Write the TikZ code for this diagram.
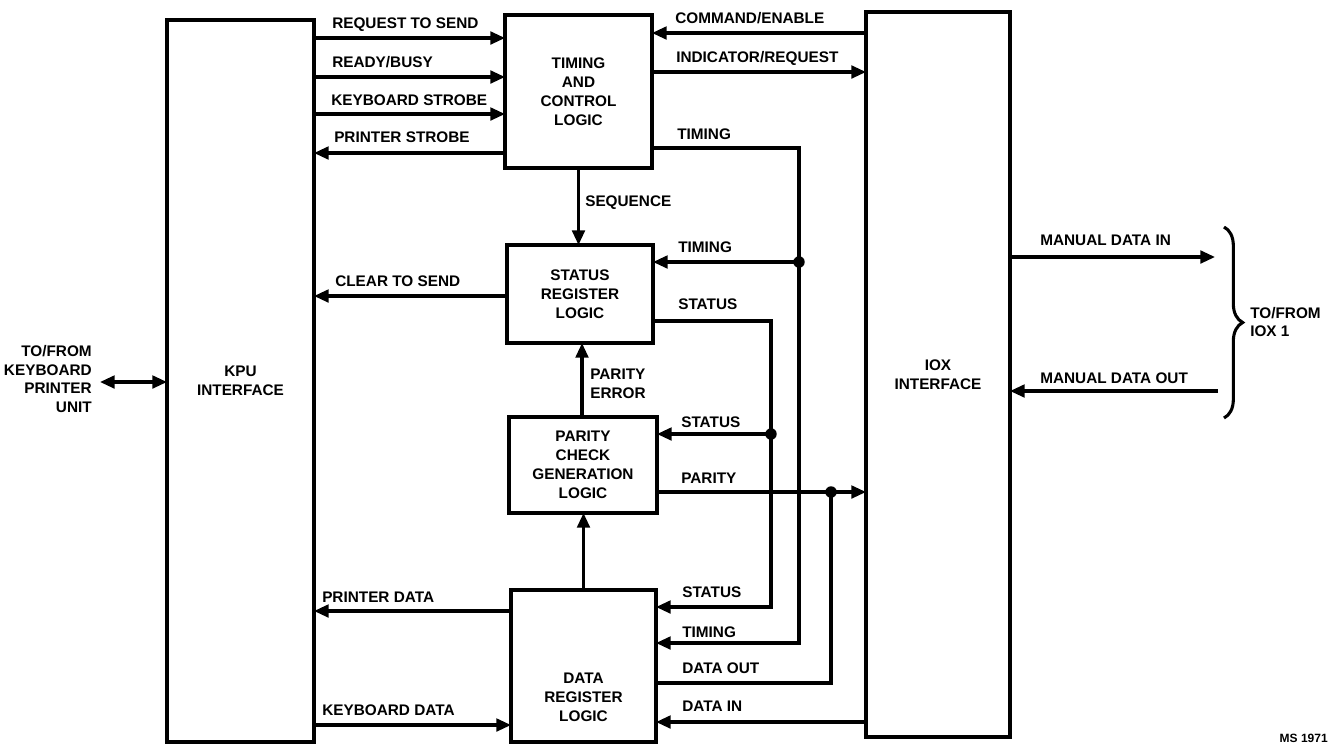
\documentclass[tikz,border=0pt]{standalone}
\usepackage{fontspec}
\setmainfont{Liberation Sans}
\usetikzlibrary{arrows.meta,decorations.pathreplacing}
\tikzset{
  blk/.style={draw, line width=2.4pt, rectangle, inner sep=0pt, outer sep=0pt,
    align=center, font=\bfseries\fontsize{11.5}{14.2}\selectfont},
  lab/.style={inner sep=0pt, anchor=west, align=left, text height=8.3pt, text depth=0pt,
    font=\bfseries\fontsize{11.5}{14}\selectfont},
  wire/.style={line width=2.3pt},
  arr/.style={wire, -{Triangle[length=11pt,width=9.5pt]}},
  arrtwo/.style={wire, {Triangle[length=11pt,width=9.5pt]}-{Triangle[length=11pt,width=9.5pt]}},
  jdot/.style={fill, radius=4.3pt}
}
\begin{document}
\begin{tikzpicture}[x=0.75pt, y=-0.75pt]
\useasboundingbox (0,0) rectangle (1330,744);
% blocks
\node[blk, minimum width=147*0.75pt, minimum height=722*0.75pt] (kpu) at (240.5,381) {KPU\\INTERFACE};
\node[blk, minimum width=147*0.75pt, minimum height=153*0.75pt] (tc) at (578.5,91.5) {TIMING\\AND\\CONTROL\\LOGIC};
\node[blk, minimum width=144*0.75pt, minimum height=725*0.75pt] (iox) at (938,374.5) {IOX\\INTERFACE};
\node[blk, minimum width=146*0.75pt, minimum height=98*0.75pt] (sr) at (580,294) {STATUS\\REGISTER\\LOGIC};
\node[blk, minimum width=148*0.75pt, minimum height=96*0.75pt] (pc) at (583,465) {PARITY\\CHECK\\GENERATION\\LOGIC};
\node[blk, minimum width=145*0.75pt, minimum height=152*0.75pt] (dr) at (583.5,666) {};
\node[blk, draw=none] (drtext) at (583.5,697) {DATA\\REGISTER\\LOGIC};

% junction coordinates
\coordinate (tdot) at (799,262);
\coordinate (sdot) at (771,434);
\coordinate (pdot) at (831,492);
\coordinate (mdi) at (1215,257);
\coordinate (mdo) at (1218,391);
\coordinate (kpuext) at (100,382);

% KPU <-> timing and control
\draw[arr] (kpu.east |- 0,38) -- (tc.west |- 0,38);
\draw[arr] (kpu.east |- 0,77) -- (tc.west |- 0,77);
\draw[arr] (kpu.east |- 0,114) -- (tc.west |- 0,114);
\draw[arr] (tc.west |- 0,153) -- (kpu.east |- 0,153);
% timing and control <-> IOX
\draw[arr] (iox.west |- 0,33) -- (tc.east |- 0,33);
\draw[arr] (tc.east |- 0,72) -- (iox.west |- 0,72);
% timing bus
\draw[arr] (tc.east |- 0,148) -| (tdot) |- (dr.east |- 0,643);
\draw[arr] (tdot) -- (sr.east |- tdot);
\fill[jdot] (tdot) circle;
% status bus
\draw[arr] (sr.east |- 0,321) -| (sdot) |- (dr.east |- 0,607);
\draw[arr] (sdot) -- (pc.east |- sdot);
\fill[jdot] (sdot) circle;
% parity / data out
\draw[arr] (pc.east |- pdot) -- (iox.west |- pdot);
\draw[wire] (dr.east |- 0,683) -| (pdot);
\fill[jdot] (pdot) circle;
% data in
\draw[arr] (iox.west |- 0,722) -- (dr.east |- 0,722);
% vertical links
\draw[arr] (tc.south) -- (tc.south |- sr.north);
\draw[arr] (pc.north -| 582,0) -- (sr.south -| 582,0);
\draw[arr] (dr.north) -- (dr.north |- pc.south);
% KPU side
\draw[arr] (sr.west |- 0,296) -- (kpu.east |- 0,296);
\draw[arr] (dr.west |- 0,611) -- (kpu.east |- 0,611);
\draw[arr] (kpu.east |- 0,725) -- (dr.west |- 0,725);
\draw[arrtwo] (kpuext) -- (kpu.west |- kpuext);
% IOX right side
\draw[arr] (iox.east |- mdi) -- (mdi);
\draw[arr] (mdo) -- (iox.east |- mdo);
\draw[line width=2.3pt, decorate, decoration={brace, amplitude=14pt, aspect=0.5}] (1224,227) -- (1224,418);

% labels
\node[lab] (l1) at (332,23) {REQUEST TO SEND};
\node[lab] (l2) at (332,62) {READY/BUSY};
\node[lab] (l3) at (331,100) {KEYBOARD STROBE};
\node[lab] (l4) at (334,137) {PRINTER STROBE};
\node[lab] (l5) at (675,18) {COMMAND/ENABLE};
\node[lab] (l6) at (676,57) {INDICATOR/REQUEST};
\node[lab] (l7) at (677,134) {TIMING};
\node[lab] (l8) at (585,201) {SEQUENCE};
\node[lab] (l9) at (678,247) {TIMING};
\node[lab] (l10) at (335,281) {CLEAR TO SEND};
\node[lab] (l11) at (678,304) {STATUS};
\node[lab, text height=, text depth=] (l12) at (590,384) {PARITY\\ERROR};
\node[lab] (l13) at (681,422) {STATUS};
\node[lab] (l14) at (681,478) {PARITY};
\node[lab] (l15) at (322,597) {PRINTER DATA};
\node[lab] (l16) at (682,592) {STATUS};
\node[lab] (l17) at (682,632) {TIMING};
\node[lab] (l18) at (682,668) {DATA OUT};
\node[lab] (l19) at (682,706) {DATA IN};
\node[lab] (l20) at (322,710) {KEYBOARD DATA};
\node[lab] (l21) at (1040,240) {MANUAL DATA IN};
\node[lab] (l22) at (1040,378) {MANUAL DATA OUT};
\node[lab, text height=, text depth=] (l23) at (1250,322) {TO/FROM\\IOX 1};
\node[lab, text height=, text depth=, anchor=east, align=right] (l24) at (92,379) {TO/FROM\\KEYBOARD\\PRINTER\\UNIT};
\node[lab, anchor=east, font=\bfseries\fontsize{9}{11}\selectfont] (l25) at (1328,737) {MS 1971};
\end{tikzpicture}
\end{document}
